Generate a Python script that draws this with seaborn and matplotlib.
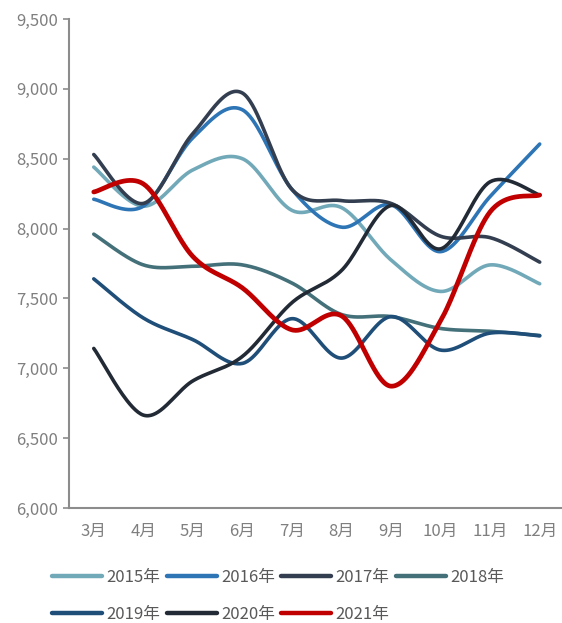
import numpy as np
import pandas as pd
import matplotlib
matplotlib.use("Agg")
import matplotlib.pyplot as plt
import seaborn as sns
from matplotlib.lines import Line2D

months = ["3月", "4月", "5月", "6月", "7月", "8月", "9月", "10月", "11月", "12月"]
years = ["2015年", "2016年", "2017年", "2018年", "2019年", "2020年", "2021年"]

v2015 = [8440, 8160, 8420, 8500, 8130, 8150, 7775, 7550, 7740, 7605]
v2016 = [8210, 8160, 8650, 8850, 8280, 8010, 8170, 7835, 8230, 8605]
v2017 = [8530, 8180, 8680, 8970, 8280, 8200, 8180, 7945, 7935, 7760]
v2018 = [7960, 7740, 7730, 7740, 7610, 7385, 7370, 7285, 7265, 7235]
v2019 = [7640, 7360, 7205, 7035, 7355, 7073, 7370, 7130, 7252, 7232]
v2020 = [7142, 6665, 6910, 7085, 7470, 7700, 8165, 7855, 8335, 8240]
v2021 = [8262, 8320, 7800, 7575, 7275, 7375, 6872, 7340, 8120, 8240]

series = [v2015, v2016, v2017, v2018, v2019, v2020, v2021]
colors = ["#72A9B9", "#2E75B6", "#333F50", "#44707A", "#1F4E79", "#222A35", "#C00000"]
widths = [2.6, 2.6, 2.6, 2.6, 2.6, 2.6, 3.4]


def smooth(values, n=40):
    """Catmull-Rom curve through the points (the usual smoothed-line style)."""
    p = np.asarray(values, dtype=float)
    x = np.arange(len(p), dtype=float)
    px = np.concatenate([[x[0]], x, [x[-1]]])
    py = np.concatenate([[p[0]], p, [p[-1]]])
    xs, ys = [], []
    t = np.linspace(0, 1, n, endpoint=False)
    for i in range(1, len(px) - 2):
        for arr, out in ((px, xs), (py, ys)):
            p0, p1, p2, p3 = arr[i - 1], arr[i], arr[i + 1], arr[i + 2]
            c1 = p1 + (p2 - p0) / 6.0
            c2 = p2 - (p3 - p1) / 6.0
            b = ((1 - t) ** 3) * p1 + 3 * ((1 - t) ** 2) * t * c1 + 3 * (1 - t) * t ** 2 * c2 + t ** 3 * p2
            out.extend(b)
    xs.append(x[-1])
    ys.append(p[-1])
    return np.array(xs), np.array(ys)


sns.set_theme(style="white")
plt.rcParams["font.family"] = ["Noto Sans CJK SC", "DejaVu Sans"]

fig = plt.figure(figsize=(5.62, 6.23), dpi=100)
ax = fig.add_axes([69 / 562, 1 - 508 / 623, 1 - 69 / 562, (508 - 19) / 623])

frames = []
for yr, vals in zip(years, series):
    xs, ys = smooth(vals)
    frames.append(pd.DataFrame({"x": xs, "value": ys, "year": yr}))
df = pd.concat(frames, ignore_index=True)

for yr, col, lw in zip(years, colors, widths):
    sns.lineplot(data=df[df["year"] == yr], x="x", y="value", color=col,
                 linewidth=lw, sort=False, estimator=None, ax=ax,
                 solid_capstyle="round")

gray = "#7F7F7F"
ax.set_xlim(-0.5, 9.45)
ax.set_ylim(6000, 9500)
ax.set_yticks(np.arange(6000, 9501, 500))
ax.set_yticklabels([f"{v:,}" for v in range(6000, 9501, 500)])
ax.set_xticks(range(len(months)))
ax.set_xticklabels(months)
ax.set_xlabel("")
ax.set_ylabel("")

for side in ("top", "right"):
    ax.spines[side].set_visible(False)
for side in ("left", "bottom"):
    ax.spines[side].set_color("#8C8C8C")
    ax.spines[side].set_linewidth(1.5)

ax.tick_params(axis="y", which="major", left=True, length=4, width=1.2,
               color="#8C8C8C", labelsize=12, labelcolor=gray, pad=4)
ax.tick_params(axis="x", which="major", bottom=False, labelsize=12,
               labelcolor=gray, pad=5)

handles = [Line2D([0], [0], color=c, lw=3.2, solid_capstyle="round") for c in colors]
order = [0, 4, 1, 5, 2, 6, 3]
leg = fig.legend([handles[i] for i in order], [years[i] for i in order],
                 loc="upper left", bbox_to_anchor=(52 / 562, 1 - 569 / 623),
                 ncol=4, frameon=False, fontsize=12, handlelength=3.0,
                 handletextpad=0.25, columnspacing=0.4, labelspacing=1.2,
                 borderaxespad=0, borderpad=0)
for t in leg.get_texts():
    t.set_color("#595959")

fig.savefig("out.png", dpi=100)
